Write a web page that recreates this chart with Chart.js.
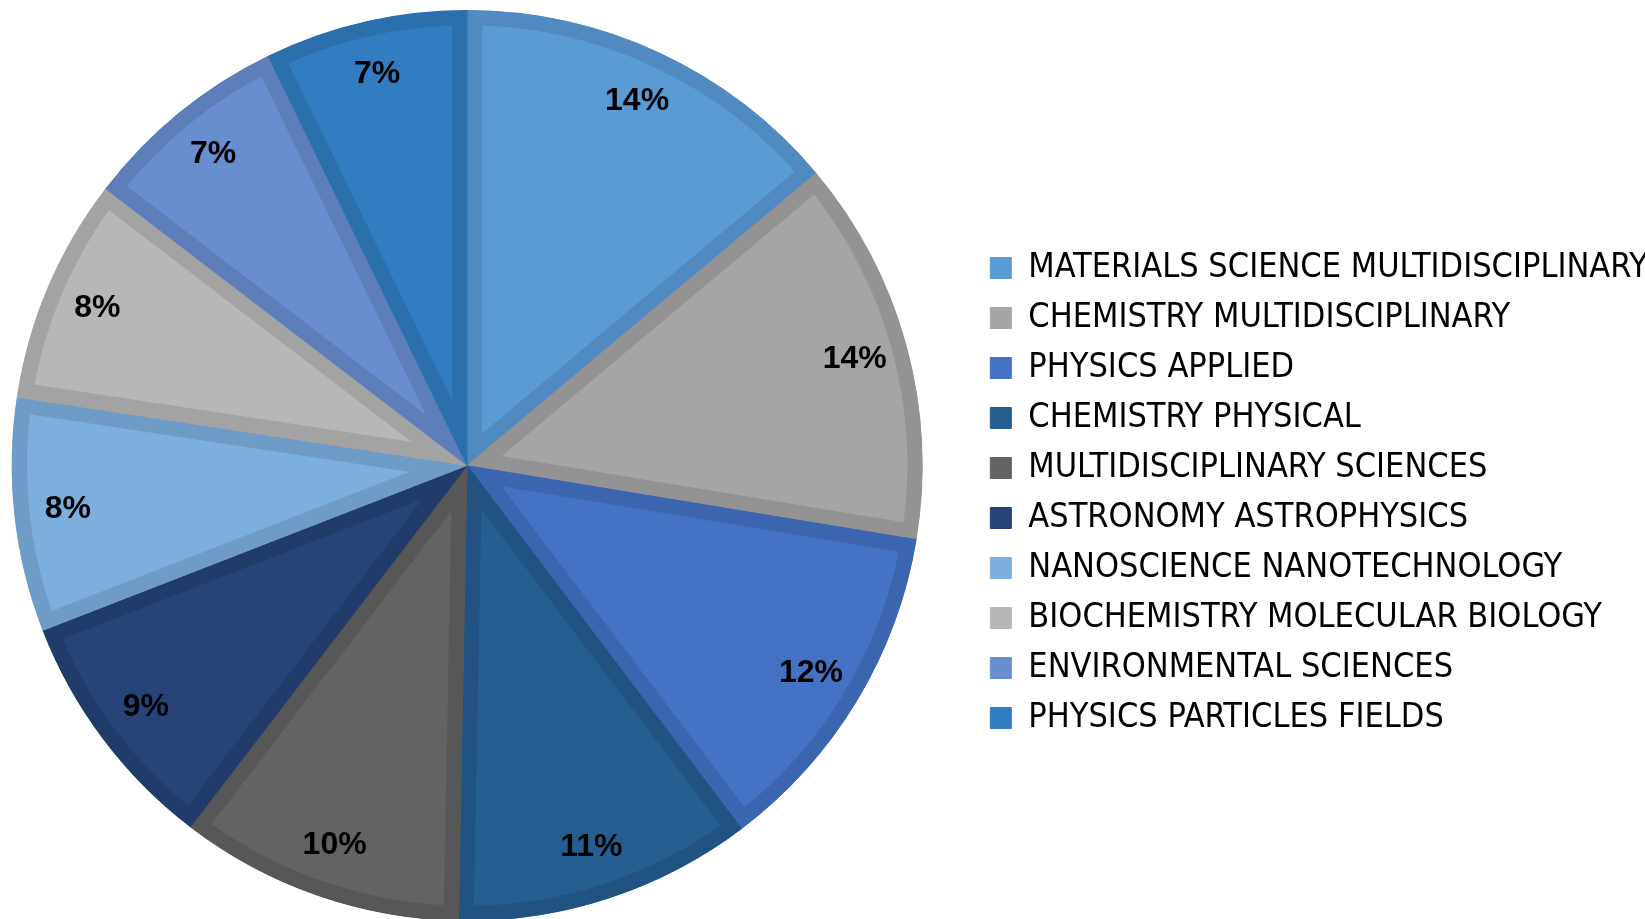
<!DOCTYPE html>
<html>
<head>
<meta charset="utf-8">
<title>Subject categories</title>
<script src="https://cdn.jsdelivr.net/npm/chart.js@4.4.1/dist/chart.umd.min.js"></script>
<style>
  html, body { margin: 0; padding: 0; background: #fff; overflow: hidden; }
  #wrap { position: relative; width: 1645px; height: 919px; overflow: hidden; }
  #pieChart { position: absolute; left: -40px; top: 0; }
</style>
</head>
<body>
<div id="wrap"><canvas id="pieChart" width="1698" height="930"></canvas></div>
<script>
// categories, clockwise from 12 o'clock
const categories = [
    'MATERIALS SCIENCE MULTIDISCIPLINARY',
    'CHEMISTRY MULTIDISCIPLINARY',
    'PHYSICS APPLIED',
    'CHEMISTRY PHYSICAL',
    'MULTIDISCIPLINARY SCIENCES',
    'ASTRONOMY ASTROPHYSICS',
    'NANOSCIENCE NANOTECHNOLOGY',
    'BIOCHEMISTRY MOLECULAR BIOLOGY',
    'ENVIRONMENTAL SCIENCES',
    'PHYSICS PARTICLES FIELDS'
];

// share of records per category (%)
const shares = [13.9, 13.7, 12.1, 10.6, 10.1, 8.7, 8.3, 8.0, 7.4, 7.2];

const fillColors = [
    '#5B9BD5', '#A5A5A5', '#4472C4', '#255E91', '#636363',
    '#264478', '#7CAFDD', '#B7B7B7', '#698ED0', '#327DC2'
];
const edgeColors = [
    '#508AC0', '#939393', '#3C65AF', '#215382', '#575757',
    '#213C6A', '#6E9CC6', '#A3A3A3', '#5D7EB9', '#2C6FAD'
];

// writes the rounded percentage inside each slice
const sliceLabels = {
    id: 'sliceLabels',
    afterDatasetsDraw(chart) {
        const ctx = chart.ctx;
        const values = chart.data.datasets[0].data;
        const total = values.reduce((a, b) => a + b, 0);
        const meta = chart.getDatasetMeta(0);
        ctx.save();
        ctx.font = 'bold 32px "Liberation Sans", Arial, sans-serif';
        ctx.fillStyle = '#000';
        ctx.textAlign = 'center';
        ctx.textBaseline = 'middle';
        meta.data.forEach((arc, i) => {
            const p = arc.getProps(['x', 'y', 'startAngle', 'endAngle', 'outerRadius'], true);
            const mid = (p.startAngle + p.endAngle) / 2;
            const r = p.outerRadius * 0.882;
            const pct = Math.round(values[i] / total * 100);
            ctx.fillText(pct + '%', p.x + Math.cos(mid) * r, p.y + Math.sin(mid) * r);
        });
        ctx.restore();
    }
};

const ctx = document.getElementById('pieChart').getContext('2d');
new Chart(ctx, {
    type: 'pie',
    data: {
        labels: categories,
        datasets: [{
            data: shares,
            backgroundColor: fillColors,
            borderColor: edgeColors,
            borderWidth: 15,
            borderAlign: 'inner',
            borderJoinStyle: 'miter',
            offset: 0
        }]
    },
    options: {
        responsive: false,
        animation: false,
        events: [],
        layout: {
            padding: { left: 0, top: 10, right: 0, bottom: 9 }
        },
        plugins: {
            tooltip: { enabled: false },
            legend: {
                position: 'right',
                title: {
                    display: true,
                    text: '',
                    font: { size: 10 },
                    padding: { top: 43, bottom: 0 }
                },
                labels: {
                    boxWidth: 21,
                    boxHeight: 21,
                    padding: 16,
                    color: '#000',
                    font: { size: 34, family: '"Liberation Sans Narrow", "DejaVu Sans Condensed", sans-serif' },
                    generateLabels(chart) {
                        const items = Chart.overrides.pie.plugins.legend.labels.generateLabels(chart);
                        items.forEach(item => {
                            item.lineWidth = 1;
                            item.strokeStyle = item.fillStyle;
                        });
                        return items;
                    }
                }
            }
        }
    },
    plugins: [sliceLabels]
});
</script>
</body>
</html>
